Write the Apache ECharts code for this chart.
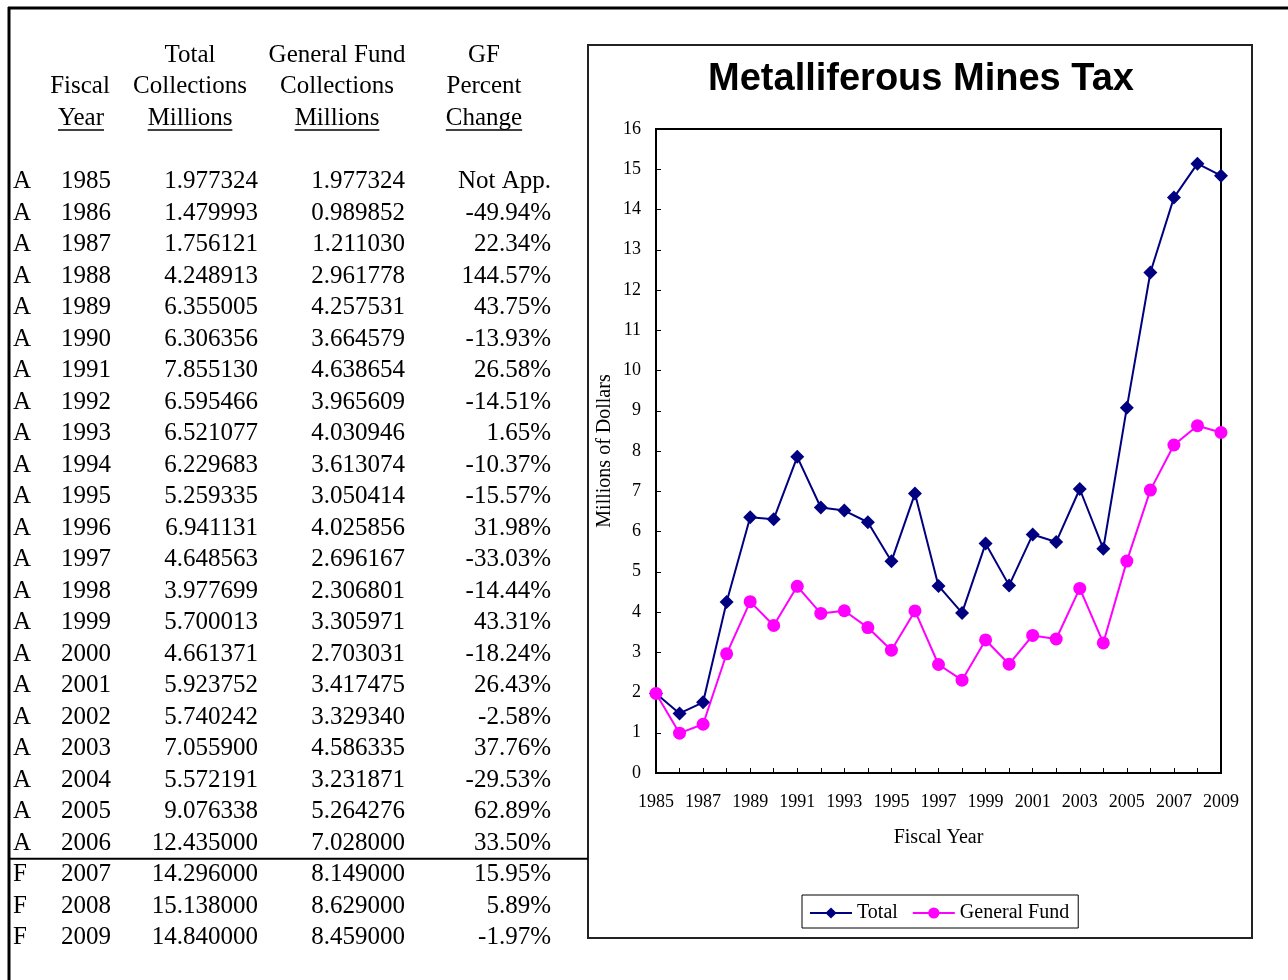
<!DOCTYPE html>
<html>
<head>
<meta charset="UTF-8">
<title>Metalliferous Mines Tax</title>
<script src="https://cdn.jsdelivr.net/npm/echarts@6/dist/echarts.min.js"></script>
<style>
  html, body { margin: 0; padding: 0; background: #fff; }
  #main { width: 1288px; height: 980px; }
</style>
</head>
<body>
<div id="main"></div>
<script type="text/javascript">
var years = ['1985', '1986', '1987', '1988', '1989', '1990', '1991', '1992', '1993', '1994',
  '1995', '1996', '1997', '1998', '1999', '2000', '2001', '2002', '2003', '2004',
  '2005', '2006', '2007', '2008', '2009'];
var flags = ['A', 'A', 'A', 'A', 'A', 'A', 'A', 'A', 'A', 'A', 'A', 'A', 'A', 'A', 'A', 'A',
  'A', 'A', 'A', 'A', 'A', 'A', 'F', 'F', 'F'];
var totalCollections = [1.977324, 1.479993, 1.756121, 4.248913, 6.355005, 6.306356, 7.855130,
  6.595466, 6.521077, 6.229683, 5.259335, 6.941131, 4.648563, 3.977699, 5.700013, 4.661371,
  5.923752, 5.740242, 7.055900, 5.572191, 9.076338, 12.435000, 14.296000, 15.138000, 14.840000];
var gfCollections = [1.977324, 0.989852, 1.211030, 2.961778, 4.257531, 3.664579, 4.638654,
  3.965609, 4.030946, 3.613074, 3.050414, 4.025856, 2.696167, 2.306801, 3.305971, 2.703031,
  3.417475, 3.329340, 4.586335, 3.231871, 5.264276, 7.028000, 8.149000, 8.629000, 8.459000];
var gfPctChange = ['Not App.', '-49.94%', '22.34%', '144.57%', '43.75%', '-13.93%', '26.58%',
  '-14.51%', '1.65%', '-10.37%', '-15.57%', '31.98%', '-33.03%', '-14.44%', '43.31%', '-18.24%',
  '26.43%', '-2.58%', '37.76%', '-29.53%', '62.89%', '33.50%', '15.95%', '5.89%', '-1.97%'];

var serif = "'Liberation Serif', 'Times New Roman', serif";
var tableFont = '25px ' + serif;

// header cells: [text, centre x, centre y, underlined]
var headers = [
  ['Total', 190, 55, false], ['General Fund', 337, 55, false], ['GF', 484, 55, false],
  ['Fiscal', 80, 86, false], ['Collections', 190, 86, false], ['Collections', 337, 86, false], ['Percent', 484, 86, false],
  ['Year', 81, 118, true], ['Millions', 190, 118, true], ['Millions', 337, 118, true], ['Change', 484, 118, true]
];

var measureCtx = document.createElement('canvas').getContext('2d');
measureCtx.font = tableFont;

function txt(s, x, y, align) {
  return {
    type: 'text', silent: true,
    style: {
      text: s, x: x, y: y, font: tableFont, fill: '#000',
      align: align, verticalAlign: 'middle',
      textAlign: align, textVerticalAlign: 'middle'
    }
  };
}

function line(x1, y1, x2, y2, w, c) {
  return {
    type: 'line', silent: true,
    shape: { x1: x1, y1: y1, x2: x2, y2: y2 },
    style: { stroke: c || '#000', lineWidth: w }
  };
}

var graphics = [];
// page border (top and left)
graphics.push(line(8, 8, 1288, 8, 3));
graphics.push(line(9, 7, 9, 980, 3));
// chart frame
graphics.push({
  type: 'rect', silent: true,
  shape: { x: 588, y: 45, width: 664, height: 893 },
  style: { fill: null, stroke: '#222', lineWidth: 2 }
});

headers.forEach(function (h) {
  graphics.push(txt(h[0], h[1], h[2], 'center'));
  if (h[3]) {
    var w = measureCtx.measureText(h[0]).width;
    graphics.push(line(h[1] - w / 2, 130, h[1] + w / 2, 130, 1.5));
  }
});

var rowY0 = 181.5, rowStep = 31.5;
years.forEach(function (yr, i) {
  var y = rowY0 + i * rowStep;
  graphics.push(txt(flags[i], 13, y, 'left'));
  graphics.push(txt(yr, 86, y, 'center'));
  graphics.push(txt(totalCollections[i].toFixed(6), 258, y, 'right'));
  graphics.push(txt(gfCollections[i].toFixed(6), 405, y, 'right'));
  graphics.push(txt(gfPctChange[i], 551, y, 'right'));
});
// separator between actual and forecast years
var lastActual = flags.lastIndexOf('A');
var sepY = rowY0 + (lastActual + 0.5) * rowStep;
graphics.push(line(9, sepY, 588, sepY, 2));

var myChart = echarts.init(document.getElementById('main'));
var option = {
  animation: false,
  backgroundColor: '#fff',
  title: {
    text: 'Metalliferous Mines Tax',
    left: 916, top: 56, textAlign: 'center',
    textStyle: { fontFamily: "'Liberation Sans', Arial, sans-serif", fontWeight: 'bold', fontSize: 38, color: '#000' }
  },
  grid: {
    left: 656, top: 129, right: 67, bottom: 207,
    show: true, borderColor: '#000', borderWidth: 2, backgroundColor: 'transparent'
  },
  legend: {
    left: 802, top: 895,
    padding: [8, 9, 5, 7],
    borderColor: '#000', borderWidth: 1,
    itemWidth: 42, itemHeight: 14, itemGap: 14,
    textStyle: { fontFamily: serif, fontSize: 20, color: '#000' },
    data: ['Total', 'General Fund']
  },
  xAxis: {
    type: 'category',
    data: years,
    boundaryGap: false,
    name: 'Fiscal Year',
    nameLocation: 'middle',
    nameGap: 55,
    nameTextStyle: { fontFamily: serif, fontSize: 20, color: '#000' },
    axisLine: { lineStyle: { color: '#000', width: 2 } },
    axisTick: { inside: true, length: 5, interval: 0, lineStyle: { color: '#000' } },
    axisLabel: { interval: 1, margin: 20, fontFamily: serif, fontSize: 18, color: '#000' },
    splitLine: { show: false }
  },
  yAxis: {
    type: 'value',
    min: 0, max: 16, interval: 1,
    name: 'Millions of Dollars',
    nameLocation: 'middle',
    nameGap: 41,
    nameTextStyle: { fontFamily: serif, fontSize: 20, color: '#000' },
    axisLine: { show: true, lineStyle: { color: '#000', width: 2 } },
    axisTick: { show: true, inside: true, length: 5, lineStyle: { color: '#000' } },
    axisLabel: { margin: 15, fontFamily: serif, fontSize: 18, color: '#000' },
    splitLine: { show: false }
  },
  series: [
    {
      name: 'Total', type: 'line', data: totalCollections,
      symbol: 'diamond', symbolSize: 14,
      itemStyle: { color: '#000080' },
      lineStyle: { color: '#000080', width: 2 }
    },
    {
      name: 'General Fund', type: 'line', data: gfCollections,
      symbol: 'circle', symbolSize: 13,
      itemStyle: { color: '#FF00FF' },
      lineStyle: { color: '#FF00FF', width: 2 }
    }
  ],
  graphic: graphics
};
myChart.setOption(option);
</script>
</body>
</html>
